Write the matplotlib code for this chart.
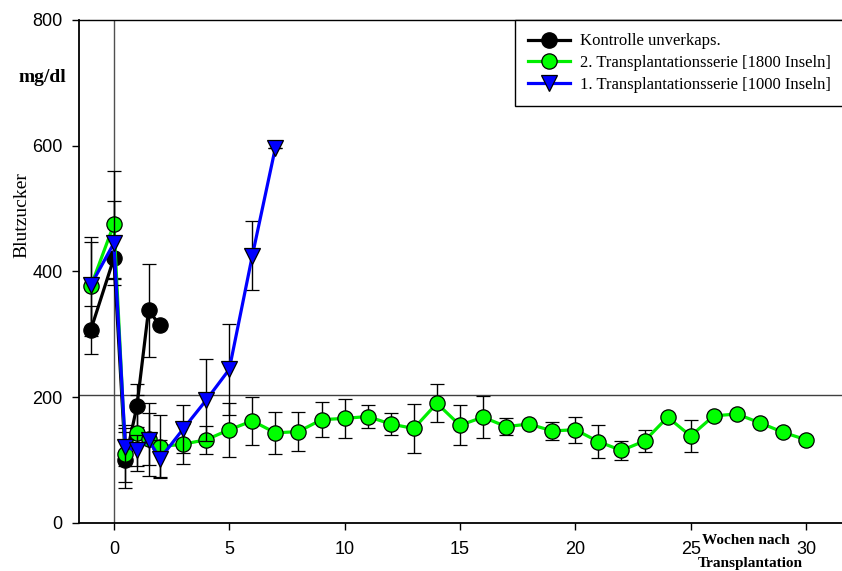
import matplotlib
matplotlib.use('Agg')
import matplotlib.pyplot as plt
from matplotlib.lines import Line2D

# Blutzucker (mg/dl) je Woche nach Transplantation, Mittelwert +/- Fehler
weeks_ctrl = [-1, 0, 0.5, 1, 1.5, 2]
bz_ctrl = [307, 421, 100, 186, 338, 314]
err_ctrl = [38, 33, 44, 34, 74, 0]

weeks_s2 = [-1, 0, 0.5, 1, 1.5, 2, 3, 4, 5, 6, 7, 8, 9, 10, 11, 12, 13, 14,
            15, 16, 17, 18, 19, 20, 21, 22, 23, 24, 25, 26, 27, 28, 29, 30]
bz_s2 = [376, 475, 110, 143, 133, 121, 125, 132, 148, 162, 143, 145, 164, 166,
         169, 157, 150, 190, 155, 168, 153, 157, 146, 148, 129, 115, 130, 168,
         138, 170, 173, 159, 144, 132]
err_s2 = [79, 85, 45, 60, 41, 50, 32, 22, 43, 38, 33, 31, 28, 31, 18, 18, 39,
          30, 32, 34, 14, 0, 14, 21, 26, 15, 17, 0, 26, 0, 0, 0, 0, 0]

weeks_s1 = [-1, 0, 0.5, 1, 1.5, 2, 3, 4, 5, 6, 7]
bz_s1 = [378, 445, 120, 115, 132, 102, 149, 195, 244, 425, 597]
err_s1 = [69, 67, 30, 25, 58, 30, 38, 65, 72, 55, 0]

labels = ['Kontrolle unverkaps.',
          '2. Transplantationsserie [1800 Inseln]',
          '1. Transplantationsserie [1000 Inseln]']

serif = ['Liberation Serif', 'DejaVu Serif']
sans = ['Liberation Sans', 'DejaVu Sans']

fig = plt.figure(figsize=(8.42, 5.71), dpi=100)
ax = fig.add_axes([79.3 / 842, 48.3 / 571, 1 - 79.3 / 842, 502.7 / 571])

eb = dict(ecolor='black', elinewidth=1.0, capsize=4.7, capthick=1.0,
          lw=2.3, markeredgecolor='black', markeredgewidth=0.9)

ax.errorbar(weeks_ctrl, bz_ctrl, yerr=err_ctrl, color='black', marker='o',
            markersize=11, markerfacecolor='black', zorder=3, **eb)
ax.errorbar(weeks_s2, bz_s2, yerr=err_s2, color='#00ee00', marker='o',
            markersize=11, markerfacecolor='#00ff00', zorder=4, **eb)
ax.errorbar(weeks_s1, bz_s1, yerr=err_s1, color='#0000ff', marker='v',
            markersize=11.5, markerfacecolor='#0000ff', zorder=5, **eb)

# Referenzlinien: Transplantationszeitpunkt und Grenzwert
ax.axvline(0, color='#505050', lw=1.0, zorder=1)
ax.axhline(204, color='#404040', lw=1.0, zorder=1)

ax.set_xlim(-1.5, 31.56)
ax.set_ylim(0, 800)
ax.set_xticks([0, 5, 10, 15, 20, 25, 30])
ax.set_yticks([0, 200, 400, 600, 800])
ax.tick_params(direction='out', length=5, width=1.0, labelsize=13)
ax.tick_params(axis='x', pad=8)
ax.tick_params(axis='y', pad=7)
for lab in ax.get_xticklabels() + ax.get_yticklabels():
    lab.set_family(sans)

ax.spines['right'].set_visible(False)
ax.spines['left'].set_linewidth(1.3)
ax.spines['bottom'].set_linewidth(1.3)
ax.spines['top'].set_linewidth(1.0)

fig.text(22 / 842, 1 - 215 / 571, 'Blutzucker', rotation=90, ha='center',
         va='center', fontsize=14, family=serif)
fig.text(42 / 842, 1 - 78 / 571, 'mg/dl', ha='center', va='center',
         fontsize=14, fontweight='bold', family=serif)
fig.text(746 / 842, 1 - 540 / 571, 'Wochen nach', ha='center', va='center',
         fontsize=11, fontweight='bold', family=serif)
fig.text(750 / 842, 1 - 563 / 571, 'Transplantation', ha='center',
         va='center', fontsize=11, fontweight='bold', family=serif)

handles = [
    Line2D([], [], color='black', lw=2.3, marker='o', markersize=11,
           markerfacecolor='black', markeredgecolor='black'),
    Line2D([], [], color='#00ee00', lw=2.3, marker='o', markersize=11,
           markerfacecolor='#00ff00', markeredgecolor='black',
           markeredgewidth=0.9),
    Line2D([], [], color='#0000ff', lw=2.3, marker='v', markersize=11.5,
           markerfacecolor='#0000ff', markeredgecolor='black',
           markeredgewidth=0.9),
]
leg = ax.legend(handles, labels, loc='upper left',
                bbox_to_anchor=(515 / 842, 1 - 20 / 571),
                bbox_transform=fig.transFigure, fancybox=False,
                framealpha=1, edgecolor='black', borderaxespad=0,
                borderpad=0.8, labelspacing=0.35, handlelength=2.5,
                handletextpad=0.6, prop={'family': serif, 'size': 12})
leg.get_frame().set_linewidth(1.0)
leg.set_zorder(10)

fig.savefig('out.png', dpi=100)
